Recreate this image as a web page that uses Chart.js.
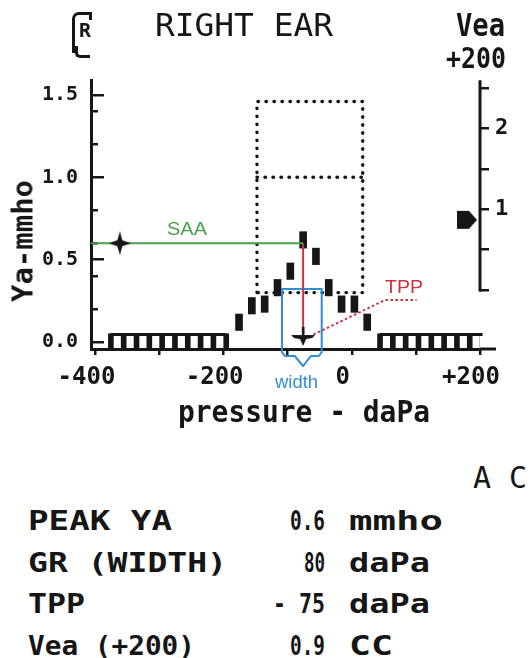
<!DOCTYPE html>
<html><head><meta charset="utf-8">
<script src="https://cdn.jsdelivr.net/npm/chart.js@4.4.1/dist/chart.umd.min.js"></script>
<style>
html,body{margin:0;padding:0;background:#fff;}
body{width:532px;height:658px;position:relative;overflow:hidden;}
#c{position:absolute;left:0;top:0;}
.t{position:absolute;white-space:pre;line-height:1;color:#161616;font-family:"DejaVu Sans Mono",monospace;font-weight:bold;}
</style></head><body>
<canvas id="c" width="532" height="420"></canvas>
<script>
// ---------------- data ----------------
const pressure = [-376,-356,-336,-316,-296,-276,-256,-236,-216,-196,-176,-156,-136,-116,-96,-76,-56,-36,-16,4,24,44,64,84,104,124,144,164,184,204];
const ya       = [0,0,0,0,0,0,0,0,0,0,0.12,0.22,0.23,0.33,0.43,0.62,0.52,0.33,0.23,0.23,0.12,0,0,0,0,0,0,0,0,0];
const pressureTicks = [-400,-300,-200,-100,0,100,200];
const pressureTickLabels = {"-400":"-400","-200":"-200","0":"0","200":"+200"};
const yaTicks = [0,0.5,1.0,1.5];
const yaMinorTicks = [0.2,0.4,0.6,0.8,1.2,1.4];
const veaTicks = [0,0.5,1,1.5,2,2.5];
const veaTickLabels = {"1":"1","2":"2"};
const normalBoxPressure = [-148,17];
const normalBoxYa = [0.3,1.0,1.46];
const peakPressure = [-76];
const peakYa = [0.6];
const saaPressure = [-407,-362];
const tppMarkerYa = [0.03];
const tppLeaderPressure = [-60,52,101];
const tppLeaderYa = [0.045,0.255,0.255];
const widthPressure = [-109,-104.5,-89,-76,-64,-51.5,-47];
const widthYa = [0.322,-0.061,-0.085,-0.146];
const veaPressure = [200];
const veaValue = [0.87];
const veaAxisRange = [-0.02,2.6];
const xAxisEnd = [225];

// ---------------- ranges (layout) ----------------
const X_MIN=-407, X_MAX=200, Y_MIN=-0.0425, Y_MAX=1.591, V_MIN=-0.731, V_MAX=2.603;
const INK='#161616', GREEN='#46a04c', RED='#c9343f', BLUE='#2f8fcf';
const HALF=0.05;

function mk(w,h,draw){const c=document.createElement('canvas');c.width=w;c.height=h;const g=c.getContext('2d');g.fillStyle=INK;draw(g);return c;}
function poly(g,pts){g.beginPath();g.moveTo(pts[0][0],pts[0][1]);for(let i=1;i<pts.length;i++)g.lineTo(pts[i][0],pts[i][1]);g.closePath();g.fill();}
const starMarker = mk(22,24,g=>poly(g,[[11,0],[13.5,9],[22,12],[13.5,15],[11,24],[8.5,15],[0,12],[8.5,9]]));
const tppMarker = mk(24,20,g=>{g.fillRect(10.8,0,2.6,9);poly(g,[[0,8],[24,8],[21,11],[15,12],[12,19],[9,12],[3,11]]);});
const veaMarker = mk(48,20,g=>poly(g,[[1,1],[13,1],[21,10],[13,19],[1,19]]));

const idx = pressure.map((p,i)=>i);
const raised = idx.filter(i=>ya[i]>0).map(i=>({x:pressure[i],y:[ya[i]-HALF,ya[i]+HALF]}));
const flat = idx.filter(i=>ya[i]===0).map(i=>({x:pressure[i],y:[ya[i]-HALF,ya[i]+HALF]}));
const comb = idx.map(i=>({x:pressure[i],y:ya[i]===0?ya[i]+0.045:null}));

const [bL,bR]=normalBoxPressure, [b0,b1,b2]=normalBoxYa;
const wp=widthPressure, wy=widthYa;
const line=(data,color,width,extra)=>Object.assign({type:'line',data,borderColor:color,borderWidth:width,pointRadius:0,tension:0,clip:false,fill:false},extra||{});
const dots={borderDash:[0.5,7.5],borderCapStyle:'round'};

const datasets=[
  {type:'line',data:[{x:saaPressure[1],y:peakYa[0]}],showLine:false,pointStyle:starMarker,pointRadius:10,clip:false},
  {type:'line',data:[{x:peakPressure[0],y:tppMarkerYa[0]}],showLine:false,pointStyle:tppMarker,pointRadius:10,clip:false},
  {type:'line',yAxisID:'y2',data:[{x:veaPressure[0],y:veaValue[0]}],showLine:false,pointStyle:veaMarker,pointRadius:10,clip:false},
  line([{x:saaPressure[0],y:peakYa[0]},{x:peakPressure[0],y:peakYa[0]}],GREEN,2),
  line([{x:peakPressure[0],y:peakYa[0]},{x:peakPressure[0],y:0.055}],RED,2),
  line(tppLeaderPressure.map((p,i)=>({x:p,y:tppLeaderYa[i]})),RED,2,{borderDash:[2.5,2.5]}),
  line([{x:wp[0],y:wy[0]},{x:wp[0],y:wy[1]},{x:wp[1],y:wy[2]},{x:wp[2],y:wy[2]},{x:wp[3],y:wy[3]},{x:wp[4],y:wy[2]},{x:wp[5],y:wy[2]},{x:wp[6],y:wy[1]},{x:wp[6],y:wy[0]},{x:wp[0],y:wy[0]}],BLUE,2,{borderJoinStyle:'round'}),
  line([{x:veaPressure[0],y:veaAxisRange[0]},{x:veaPressure[0],y:veaAxisRange[1]}],INK,3,{yAxisID:'y2'}),
  line([{x:X_MAX,y:Y_MIN},{x:xAxisEnd[0],y:Y_MIN}],INK,3),
  {type:'bar',data:raised,backgroundColor:INK,barThickness:7,grouped:false,borderWidth:0},
  {type:'bar',data:flat,backgroundColor:INK,barThickness:5,grouped:false,borderWidth:0},
  line(comb,INK,3,{spanGaps:false}),
  line([{x:bL,y:b0},{x:bL,y:b2},{x:bR,y:b2},{x:bR,y:b0},{x:bL,y:b0}],INK,3.4,dots),
  line([{x:bL,y:b1},{x:bR,y:b1}],INK,3.4,dots),
];

const monoBold={family:'DejaVu Sans Mono',weight:'bold'};
new Chart(document.getElementById('c'),{
  type:'bar',
  data:{datasets},
  options:{
    responsive:false,animation:false,events:[],
    layout:{padding:{top:80,left:0,right:0,bottom:0}},
    plugins:{legend:{display:false},tooltip:{enabled:false},title:{display:false}},
    scales:{
      x:{type:'linear',position:'bottom',min:X_MIN,max:X_MAX,offset:false,
        grid:{drawOnChartArea:false,drawTicks:true,tickLength:6,color:INK,lineWidth:2.5,offset:false},
        border:{display:true,color:INK,width:3},
        ticks:{autoSkip:false,maxRotation:0,padding:8,labelOffset:-9,color:INK,font:Object.assign({size:24},monoBold),
          callback:v=>pressureTickLabels[String(v)]||''},
        afterBuildTicks:s=>{s.ticks=pressureTicks.map(v=>({value:v}));},
        afterFit:s=>{s.height=71;}},
      y:{type:'linear',position:'left',weight:1,min:Y_MIN,max:Y_MAX,
        grid:{drawOnChartArea:false,drawTicks:true,tickLength:-13,color:INK,lineWidth:2.5},
        border:{display:true,color:INK,width:3},
        ticks:{padding:26,color:INK,font:Object.assign({size:20},monoBold),callback:v=>Number(v).toFixed(1)},
        afterBuildTicks:s=>{s.ticks=yaTicks.map(v=>({value:v}));},
        afterFit:s=>{s.width=91;}},
      yMinor:{type:'linear',position:'left',weight:0,min:Y_MIN,max:Y_MAX,
        grid:{drawOnChartArea:false,drawTicks:true,tickLength:-7,color:INK,lineWidth:2.5},
        border:{display:false},
        ticks:{display:false},
        afterBuildTicks:s=>{s.ticks=yaMinorTicks.map(v=>({value:v}));},
        afterFit:s=>{s.width=0;}},
      y2:{type:'linear',position:'right',min:V_MIN,max:V_MAX,
        grid:{drawOnChartArea:false,drawTicks:true,tickLength:9,color:INK,lineWidth:2.5},
        border:{display:false},
        ticks:{padding:6,color:INK,font:Object.assign({size:22},monoBold),callback:v=>veaTickLabels[String(v)]||''},
        afterBuildTicks:s=>{s.ticks=veaTicks.map(v=>({value:v}));},
        afterFit:s=>{s.width=52;}}
    }
  }
});

// ---------------- text ----------------
function place(txt,o){
  const el=document.createElement('div');
  el.className='t';el.textContent=txt;
  el.style.fontSize=o.S+'px';
  if(o.family)el.style.fontFamily=o.family;
  if(o.weight)el.style.fontWeight=o.weight;
  if(o.color)el.style.color=o.color;
  document.body.appendChild(el);
  const w=el.getBoundingClientRect().width;
  const sx=o.width?o.width/w:1;
  if(o.rotate){
    el.style.left=o.cx+'px';el.style.top=o.cy+'px';
    el.style.transformOrigin='0 0';
    el.style.transform=`rotate(-90deg) scaleX(${sx}) translate(-50%,-50%)`;
  }else{
    el.style.left=o.left+'px';
    el.style.top=(o.baseline-0.846*o.S)+'px';
    el.style.transformOrigin='0 0';
    el.style.transform=`scaleX(${sx})`;
  }
  return el;
}
const sans='"Liberation Sans",Arial,sans-serif';
place('RIGHT EAR',{left:155,baseline:37,S:31.5,width:178,weight:'normal'});
place('Vea',{left:456,baseline:37,S:31.5,width:49});
place('+200',{left:446,baseline:69,S:29,width:60});
place('Ya-mmho',{rotate:true,cx:23,cy:241,S:29,width:122});
place('pressure - daPa',{left:178,baseline:422,S:31,width:252});
place('SAA',{left:167,baseline:235,S:19,width:40,family:sans,weight:'normal',color:GREEN});
place('TPP',{left:385,baseline:293,S:19,width:38,family:sans,weight:'normal',color:RED});
place('width',{left:275,baseline:388,S:19,width:43,family:sans,weight:'normal',color:BLUE});
place('A C',{left:473,baseline:488,S:30,weight:'normal'});
const rows=[['PEAK YA','0.6','mmho'],['GR (WIDTH)','80','daPa'],['TPP','- 75','daPa'],['Vea (+200)','0.9','CC']];
const rowBase=[530,572,613,655];
const labelW=[144,199,57,167], valW=[35,21,52,35], unitW=[94,81,81,44];
rows.forEach((r,i)=>{
  place(r[0],{left:28,baseline:rowBase[i],S:26,width:labelW[i]});
  place(r[1],{left:325-valW[i],baseline:rowBase[i],S:26,width:valW[i]});
  place(r[2],{left:349,baseline:rowBase[i],S:26,width:unitW[i]});
});
// boxed R symbol
(function(){
  const b=document.createElement('div');
  b.style.cssText='position:absolute;left:72px;top:12px;width:17px;height:38px;border-left:3px solid #161616;border-top:3px solid #161616;border-top-left-radius:7px;';
  document.body.appendChild(b);
  const s=document.createElement('div');
  s.style.cssText='position:absolute;left:89px;top:12px;width:3px;height:8px;background:#161616;';
  document.body.appendChild(s);
  const t=document.createElement('div');
  t.style.cssText='position:absolute;left:75px;top:46px;width:12px;height:9px;border-left:3px solid #161616;border-bottom:3px solid #161616;border-bottom-left-radius:5px;';
  document.body.appendChild(t);
  place('R',{left:79,baseline:37,S:20,width:12});
})();
</script>
</body></html>
